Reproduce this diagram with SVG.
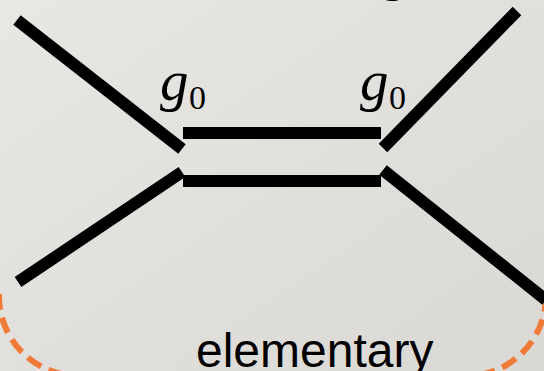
<svg xmlns="http://www.w3.org/2000/svg" width="544" height="371" viewBox="0 0 544 371">
<defs>
<linearGradient id="bg" x1="0" y1="0" x2="1" y2="1">
<stop offset="0" stop-color="#e9e7e4"/>
<stop offset="1" stop-color="#dad8d4"/>
</linearGradient>
<style>
.ln{stroke:#000;stroke-width:12;stroke-linecap:butt;fill:none}
.g{font-family:"Liberation Serif",serif;font-style:italic;font-size:57px;fill:#000}
.s{font-family:"Liberation Serif",serif;font-size:34px;fill:#000}
.lbl{font-family:"Liberation Sans",Arial,sans-serif;font-size:48px;fill:#000}
.dash{stroke:#f07a38;stroke-width:6;fill:none;stroke-dasharray:16 8}
</style>
</defs>
<rect width="544" height="371" fill="url(#bg)"/>
<g id="boundary"><path class="dash" d="M-1,294 V296 A80,80 0 0 0 79,376 H466 A80,80 0 0 0 546,296"/></g>
<g id="connectors">
<line class="ln" x1="17" y1="20" x2="182" y2="149"/>
<line class="ln" x1="18" y1="282" x2="182" y2="172"/>
<line class="ln" x1="517" y1="11" x2="383" y2="148"/>
<line class="ln" x1="383" y1="170" x2="546" y2="300"/>
<line class="ln" x1="183" y1="133" x2="381" y2="133"/>
<line class="ln" x1="183" y1="181" x2="381" y2="181"/>
</g>
<g id="label-left"><text class="g" x="160" y="100">g</text><text class="s" x="189" y="109">0</text></g>
<g id="label-right"><text class="g" x="360" y="100">g</text><text class="s" x="389" y="109">0</text></g>
<g id="label-top"><text class="g" x="383" y="-11">g</text></g>
<g id="caption"><text class="lbl" x="196" y="367">elementary</text></g>
</svg>
